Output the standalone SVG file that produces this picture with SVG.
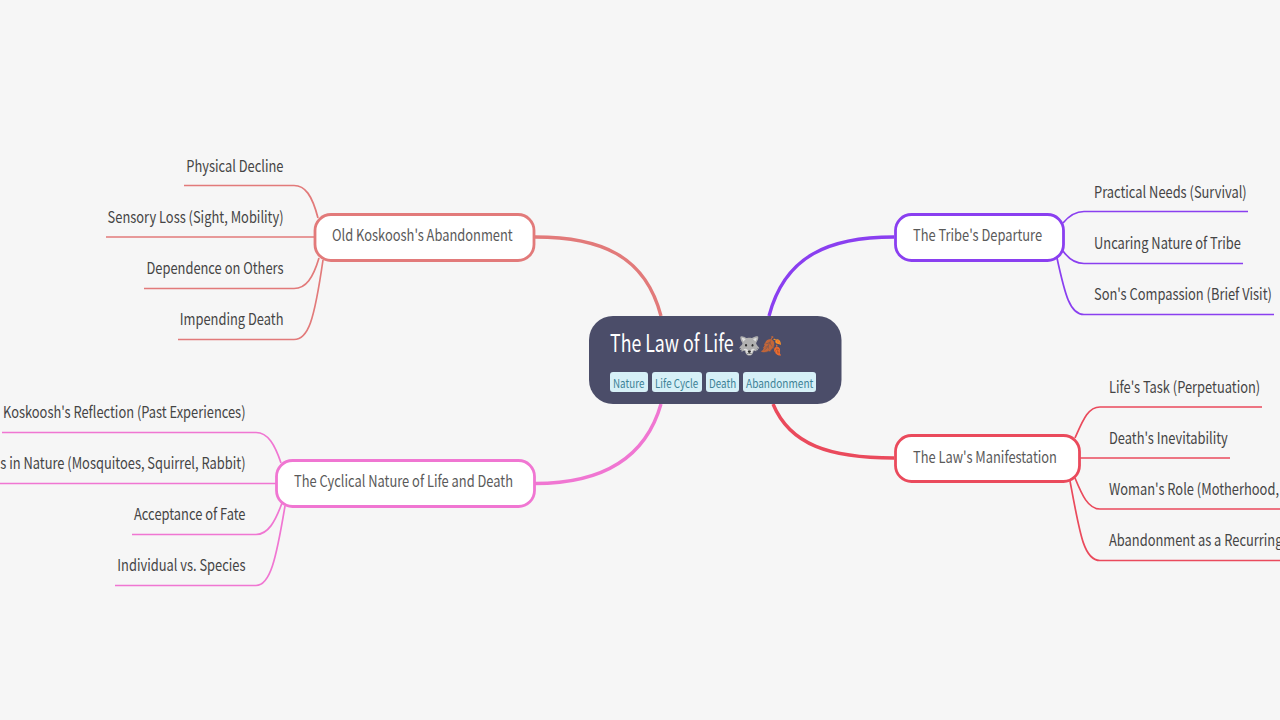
<svg xmlns="http://www.w3.org/2000/svg" width="1280" height="720" viewBox="0 0 1280 720">
<style>
text{font-family:"Noto Sans CJK SC","Noto Sans",sans-serif;fill:#454545}
.l{font-size:16px;text-anchor:end}
.r{font-size:16px}
.m{font-size:16px;fill:#5a5a5a}
.tag{font-size:12px;fill:#3d8296}
.tb{fill:#d6f0f7}
.c{fill:none;stroke-width:1.7}
.b{fill:none;stroke-width:3.4}
.n{fill:#fff;stroke-width:2.8}
</style>
<rect width="1280" height="720" fill="#f6f6f6"/>
<g id="connectors">
<path class="b" stroke="#e27a7a" d="M535 237C600 237 645 255 661 316"/>
<path class="b" stroke="#8a3ff0" d="M894 237C830 237 785 255 769 316"/>
<path class="b" stroke="#ea4a5c" d="M894 458C830 458 790 445 773 404"/>
<path class="b" stroke="#f076d2" d="M535 483.500C600 483.500 645 460 661 404"/>
<g stroke="#e27a7a">
<path class="c" d="M184 185.500H294C305 185.500 312 195 318 218"/>
<path class="c" d="M106 237H314"/>
<path class="c" d="M144 288.500H294C306 288.500 313 278 319 258"/>
<path class="c" d="M178 339.500H294C308 339.500 314 322 323 260"/>
</g>
<g stroke="#8a3ff0">
<path class="c" d="M1248 211.500H1084C1074 211.500 1068 217 1063 223"/>
<path class="c" d="M1243 263.500H1084C1074 263.500 1068 258 1063 251"/>
<path class="c" d="M1274 314.500H1084C1070 314.500 1065 295 1057 258"/>
</g>
<g stroke="#ea4a5c">
<path class="c" d="M1262 407H1100C1088 407 1083 420 1075 438"/>
<path class="c" d="M1230 458H1079"/>
<path class="c" d="M1280 509H1100C1088 509 1082 495 1075 478"/>
<path class="c" d="M1280 560.500H1100C1084 560.500 1080 535 1070 481"/>
</g>
<g stroke="#f076d2">
<path class="c" d="M2 432.500H256C268 432.500 275 445 281 463"/>
<path class="c" d="M0 483.500H276"/>
<path class="c" d="M132 534.500H256C268 534.500 275 522 282 503"/>
<path class="c" d="M115 585.500H256C270 585.500 276 560 285 506"/>
</g>
</g>
<g id="root">
<rect x="589" y="316" width="252.500" height="88" rx="24" fill="#4b4d69"/>
<text transform="translate(610 352) scale(.74 1)" font-size="24" style="fill:#fff">The Law of Life</text>
<text x="738" y="352" font-size="18">🐺</text>
<text x="760" y="352" font-size="18">🍂</text>
<rect class="tb" x="610" y="372" width="38" height="20" rx="3"/><text class="tag" transform="translate(613 388) scale(.82 1)">Nature</text>
<rect class="tb" x="652" y="372" width="50" height="20" rx="3"/><text class="tag" transform="translate(655 388) scale(.82 1)">Life Cycle</text>
<rect class="tb" x="706" y="372" width="33" height="20" rx="3"/><text class="tag" transform="translate(709 388) scale(.82 1)">Death</text>
<rect class="tb" x="743" y="372" width="73" height="20" rx="3"/><text class="tag" transform="translate(746 388) scale(.84 1)">Abandonment</text>
</g>
<g id="n-abandon">
<rect class="n" stroke="#e27a7a" x="315" y="214.500" width="219" height="46" rx="16"/>
<text class="m" transform="translate(332 241) scale(.805 1)">Old Koskoosh's Abandonment</text>
</g>
<g id="n-depart">
<rect class="n" stroke="#8a3ff0" x="895.500" y="214.500" width="168" height="46" rx="16"/>
<text class="m" transform="translate(913 241) scale(.805 1)">The Tribe's Departure</text>
</g>
<g id="n-law">
<rect class="n" stroke="#ea4a5c" x="895.500" y="435.500" width="184" height="46" rx="16"/>
<text class="m" transform="translate(913 462.500) scale(.805 1)">The Law's Manifestation</text>
</g>
<g id="n-cycle">
<rect class="n" stroke="#f076d2" x="276.500" y="460.500" width="258" height="46" rx="16"/>
<text class="m" transform="translate(294 487) scale(.805 1)">The Cyclical Nature of Life and Death</text>
</g>
<g id="leaves">
<text class="l" transform="translate(283.500 172) scale(.805 1)">Physical Decline</text>
<text class="l" transform="translate(283.500 223) scale(.805 1)">Sensory Loss (Sight, Mobility)</text>
<text class="l" transform="translate(283.500 274) scale(.805 1)">Dependence on Others</text>
<text class="l" transform="translate(283.500 325) scale(.805 1)">Impending Death</text>
<text class="r" transform="translate(1094 198) scale(.805 1)">Practical Needs (Survival)</text>
<text class="r" transform="translate(1094 249) scale(.805 1)">Uncaring Nature of Tribe</text>
<text class="r" transform="translate(1094 300) scale(.805 1)">Son's Compassion (Brief Visit)</text>
<text class="r" transform="translate(1109 393) scale(.805 1)">Life's Task (Perpetuation)</text>
<text class="r" transform="translate(1109 444) scale(.805 1)">Death's Inevitability</text>
<text class="r" transform="translate(1109 495) scale(.805 1)">Woman's Role (Motherhood,</text>
<text class="r" transform="translate(1109 546) scale(.805 1)">Abandonment as a Recurring</text>
<text class="l" transform="translate(245.500 418) scale(.805 1)">Koskoosh's Reflection (Past Experiences)</text>
<text class="l" transform="translate(245.500 469) scale(.805 1)">s in Nature (Mosquitoes, Squirrel, Rabbit)</text>
<text class="l" transform="translate(245.500 520) scale(.805 1)">Acceptance of Fate</text>
<text class="l" transform="translate(245.500 571) scale(.805 1)">Individual vs. Species</text>
</g>
</svg>
